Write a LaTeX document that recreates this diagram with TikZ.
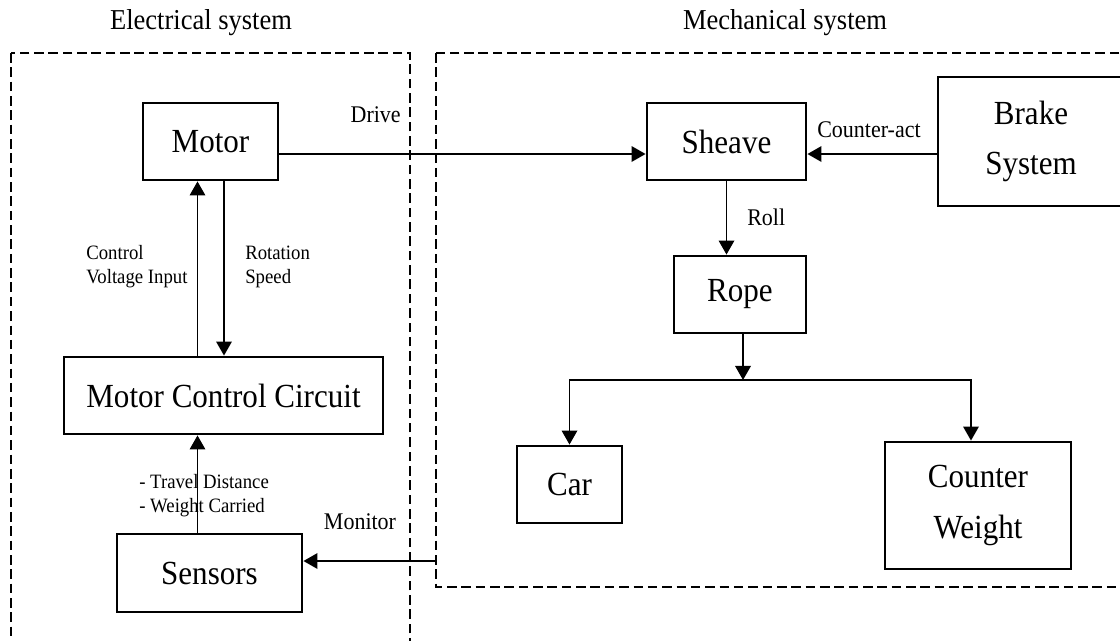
\documentclass[tikz,border=0pt]{standalone}
\usepackage{fontspec}
\setmainfont{Liberation Serif}[FakeStretch=0.92]
\usetikzlibrary{arrows.meta,calc,positioning}

\begin{document}
\begin{tikzpicture}[x=0.025cm,y=-0.025cm,
  block/.style={draw,line width=2pt,inner sep=0pt,align=center,
    font=\fontsize{24}{36}\selectfont},
  arr/.style={line width=1.4pt,-{Triangle[length=10pt,width=11pt]}},
  lbl/.style={inner sep=0pt,font=\fontsize{17}{20}\selectfont},
  small/.style={inner sep=0pt,align=left,font=\fontsize{14.5}{17}\selectfont},
  title/.style={inner sep=0pt,font=\fontsize{20.5}{24}\selectfont},
  sysbox/.style={line width=1.9pt,dash pattern=on 6.8pt off 3.4pt}]
\useasboundingbox (0,0) rectangle (1120,640);
\clip (0,0) rectangle (1120,640);

% system borders
\draw[sysbox] (11,53) rectangle (410,660);
\draw[sysbox] (436,53) rectangle (1140,587);
\node[title] (elec) at (201,23) {Electrical system};
\node[title] (mech) at (785,23) {Mechanical system};

% electrical blocks
\node[block,minimum width=3.375cm,minimum height=1.925cm] (motor) at (210.5,141.5) {Motor};
\node[block,minimum width=7.975cm,minimum height=1.925cm] (mcc) at (223.5,395.5) {Motor Control Circuit};
\node[block,minimum width=4.625cm,minimum height=1.95cm] (sensors) at (209.5,573) {Sensors};

% mechanical blocks
\node[block,minimum width=3.975cm,minimum height=1.925cm] (sheave) at (726.5,141.5) {Sheave};
\node[block,minimum width=4.65cm,minimum height=3.225cm] (brake) at (1031,141.5) {Brake\\System};
\node[block,minimum width=3.3cm,minimum height=1.925cm] (rope) at (740,294.5) {Rope};
\node[block,minimum width=2.625cm,minimum height=1.925cm] (car) at (569.5,484.5) {Car};
\node[block,minimum width=4.65cm,minimum height=3.175cm] (cw) at (978,505.5) {Counter\\Weight};

% helper points
\coordinate (drv) at (0,154);
\coordinate (vin) at (197.5,0);
\coordinate (rot) at (224,0);
\coordinate (mon) at (436,561);
\coordinate (split) at (743,380);

% labels
\node[lbl,anchor=east] (drivelbl) at (401,115) {Drive};
\node[lbl] (ctrlbl) at (869,130) {Counter-act};
\node[lbl,anchor=west] (rolllbl) at (747,217) {Roll};
\node[lbl] (monlbl) at (360,522) {Monitor};
\node[small,anchor=west] (vinlbl) at (86,267) {Control\\Voltage Input};
\node[small,anchor=west] (rotlbl) at (245,267) {Rotation\\Speed};
\node[small,anchor=west] (senslbl) at (139,495.5) {- Travel Distance\\- Weight Carried};

% connectors
\draw[arr] (motor.east |- drv) -- (sheave.west |- drv);
\draw[arr] (brake.west |- drv) -- (sheave.east |- drv);
\draw[arr] (mcc.north -| vin) -- (motor.south -| vin);
\draw[arr] (motor.south -| rot) -- (mcc.north -| rot);
\draw[arr] (sensors.north -| vin) -- (mcc.south -| vin);
\draw[arr] (mon) -- (sensors.east |- mon);
\draw[arr] (sheave.south) -- (sheave.south |- rope.north);
\draw[arr] (rope.south -| split) -- (split);
\draw[arr] (split) -| (car.north);
\draw[arr] (split) -| ([xshift=-0.175cm]cw.north);
\end{tikzpicture}
\end{document}
